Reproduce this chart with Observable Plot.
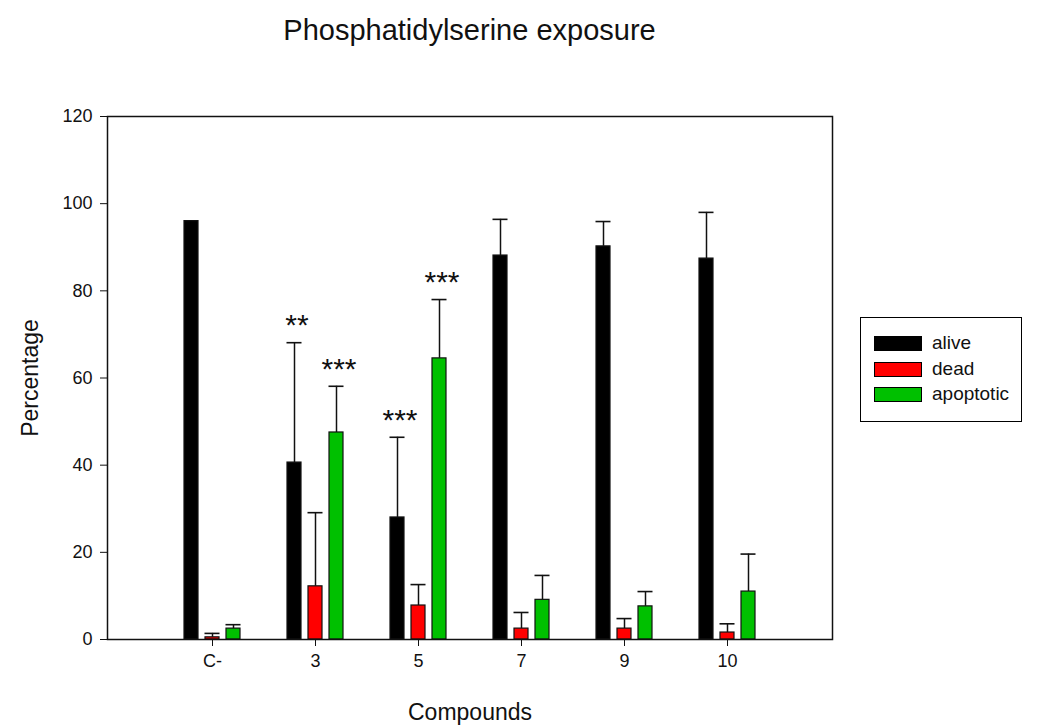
<!DOCTYPE html>
<html>
<head>
<meta charset="utf-8">
<script src="https://cdn.jsdelivr.net/npm/d3@7"></script>
<script src="https://cdn.jsdelivr.net/npm/@observablehq/plot@0.6"></script>
<style>
  body { margin: 0; background: #fff; font-family: "Liberation Sans", Arial, sans-serif; }
  #wrap { position: relative; width: 1040px; height: 726px; overflow: hidden; }
  #title { height: 60px; width: 939px; text-align: center; line-height: 60px; font-size: 29px; color: #111; }
  #legend { position: absolute; left: 860px; top: 317px; width: 162px; height: 105px; border: 1.5px solid #000; box-sizing: border-box; background: #fff; }
  .row { position: absolute; left: 13px; height: 15px; }
  .sw { position: absolute; left: 0; top: 0; width: 48px; height: 15px; border: 1px solid #000; box-sizing: border-box; }
  .lab { position: absolute; left: 58px; top: -4px; font-size: 19px; line-height: 22px; white-space: nowrap; color: #111; }
</style>
</head>
<body>
<div id="wrap">
  <div id="title">Phosphatidylserine exposure</div>
  <div id="chart"></div>
  <div id="legend"></div>
</div>
<script>
// ---- data ----
const compounds = ["C-", "3", "5", "7", "9", "10"];
const seriesNames = ["alive", "dead", "apoptotic"];
const seriesColors = ["#000000", "#ff0000", "#00c000"];

const aliveValues     = [96.0, 40.6, 28.0, 88.1, 90.2, 87.4];
const aliveErrors     = [0.0, 27.5, 18.4, 8.3, 5.7, 10.6];
const deadValues      = [0.5, 12.2, 7.8, 2.5, 2.5, 1.6];
const deadErrors      = [0.9, 16.9, 4.8, 3.7, 2.3, 2.0];
const apoptoticValues = [2.5, 47.5, 64.5, 9.1, 7.6, 11.0];
const apoptoticErrors = [0.9, 10.6, 13.5, 5.6, 3.4, 8.6];

const yTicks = [0, 20, 40, 60, 80, 100, 120];

const annotationCompounds = ["3", "3", "5", "5"];
const annotationSeries    = ["alive", "apoptotic", "alive", "apoptotic"];
const annotationLabels    = ["**", "***", "***", "***"];

// ---- build table ----
const valuesBySeries = {alive: aliveValues, dead: deadValues, apoptotic: apoptoticValues};
const errorsBySeries = {alive: aliveErrors, dead: deadErrors, apoptotic: apoptoticErrors};
const rows = [];
for (const s of seriesNames) {
  compounds.forEach((c, i) => {
    const v = valuesBySeries[s][i], e = errorsBySeries[s][i];
    rows.push({compound: c, series: s, value: v, err: e, top: v + e});
  });
}
const annotations = annotationLabels.map((label, i) => {
  const r = rows.find(d => d.compound === annotationCompounds[i] && d.series === annotationSeries[i]);
  return {compound: r.compound, series: r.series, top: r.top, label};
});

// ---- layout ----
const W = 1040, H = 666;
const mL = 107, mR = 208, mT = 56, mB = 87;
const plotW = W - mL - mR;              // 725
const padInner = 0.4593, padOuter = (1 + padInner) / 2;
const step = plotW / (compounds.length - padInner + 2 * padOuter);
const B = step * (1 - padInner);        // band width ~56
const offsets = {alive: -21, dead: 0, apoptotic: 21};
const barW = 14, capW = 15;

const marks = [];
seriesNames.forEach((s, k) => {
  const data = rows.filter(d => d.series === s);
  const withErr = data.filter(d => d.err > 0);
  const o = offsets[s];
  marks.push(Plot.ruleX(withErr, {x: "compound", y1: "value", y2: "top", dx: o, stroke: "#111", strokeWidth: 1.5}));
  marks.push(Plot.tickY(withErr, {x: "compound", y: "top", insetLeft: B / 2 + o - capW / 2, insetRight: B / 2 - o - capW / 2, stroke: "#111", strokeWidth: 1.6}));
  marks.push(Plot.barY(data, {x: "compound", y: "value", fill: seriesColors[k], stroke: "#111", strokeWidth: 1.2,
    insetLeft: B / 2 + o - barW / 2, insetRight: B / 2 - o - barW / 2}));
  const ann = annotations.filter(d => d.series === s);
  if (ann.length) {
    marks.push(Plot.text(ann, {x: "compound", y: "top", text: "label", dx: o + 2.5, dy: -17, fontSize: 30, fill: "#111", style: "letter-spacing:5px"}));
  }
});

const chart = Plot.plot({
  width: W, height: H,
  marginLeft: mL, marginRight: mR, marginTop: mT, marginBottom: mB,
  style: {fontFamily: "'Liberation Sans', Arial, sans-serif", fontSize: "18px", color: "#111", background: "#fff"},
  x: {domain: compounds, paddingInner: padInner, paddingOuter: padOuter, label: null},
  y: {domain: [0, 120], label: null},
  marks: [
    Plot.axisY({ticks: yTicks, tickSize: 7, tickPadding: 8, label: null, fontSize: 18}),
    Plot.axisX({tickSize: 7, tickPadding: 8, label: null, fontSize: 18}),
    ...marks,
    Plot.frame({stroke: "#111", strokeWidth: 1.5}),
    Plot.text(["Compounds"], {frameAnchor: "bottom", lineAnchor: "middle", textAnchor: "middle", dy: 73, fontSize: 23, fill: "#111"}),
    Plot.text(["Percentage"], {frameAnchor: "left", textAnchor: "middle", lineAnchor: "middle", rotate: -90, dx: -77, fontSize: 23, fill: "#111"})
  ]
});
document.getElementById("chart").appendChild(chart);

// ---- legend ----
const legend = document.getElementById("legend");
const rowTops = [18, 44, 69];
seriesNames.forEach((s, k) => {
  const row = document.createElement("div");
  row.className = "row";
  row.style.top = rowTops[k] + "px";
  const sw = document.createElement("div");
  sw.className = "sw";
  sw.style.background = seriesColors[k];
  const lab = document.createElement("div");
  lab.className = "lab";
  lab.textContent = s;
  row.appendChild(sw); row.appendChild(lab);
  legend.appendChild(row);
});
</script>
</body>
</html>
